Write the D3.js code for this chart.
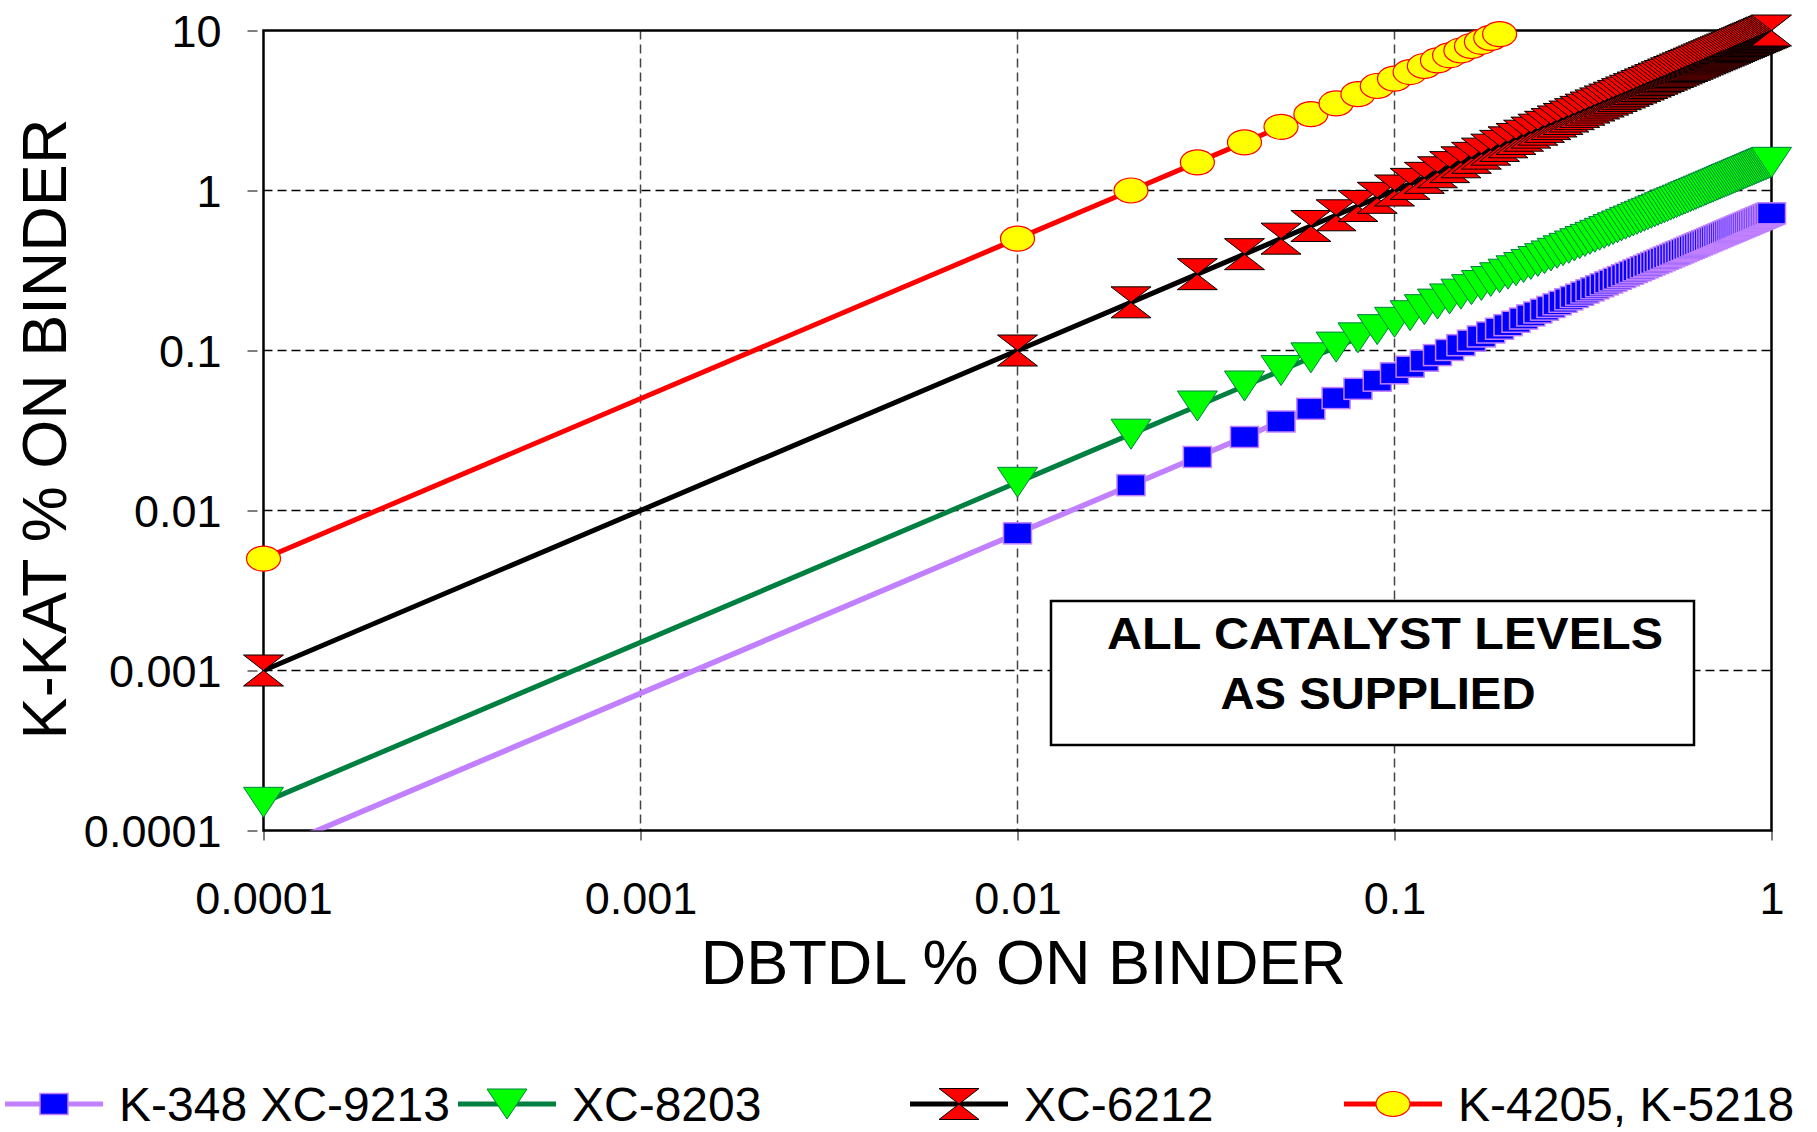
<!DOCTYPE html>
<html>
<head>
<meta charset="utf-8">
<script src="https://cdn.jsdelivr.net/npm/d3@7/dist/d3.min.js"></script>
<style>
  html, body { margin: 0; padding: 0; background: #fff; }
  svg { display: block; font-family: "Liberation Sans", Arial, sans-serif; }
</style>
</head>
<body>
<svg id="chart" width="1817" height="1132"></svg>
<script>
// ---------------- DATA ----------------
const seriesNames = ["K-348 XC-9213", "XC-8203", "XC-6212", "K-4205, K-5218"];

const xTickLabels = ["0.0001", "0.001", "0.01", "0.1", "1"];
const yTickLabels = ["0.0001", "0.001", "0.01", "0.1", "1", "10"];

const xTickValues = [0.0001, 0.001, 0.01, 0.1, 1];
const yTickValues = [0.0001, 0.001, 0.01, 0.1, 1, 10];

// DBTDL % on binder
const dbtdl = [
  0.0001,
  0.01, 0.02, 0.03, 0.04, 0.05, 0.06, 0.07, 0.08, 0.09, 0.10,
  0.11, 0.12, 0.13, 0.14, 0.15, 0.16, 0.17, 0.18, 0.19, 0.20,
  0.21, 0.22, 0.23, 0.24, 0.25, 0.26, 0.27, 0.28, 0.29, 0.30,
  0.31, 0.32, 0.33, 0.34, 0.35, 0.36, 0.37, 0.38, 0.39, 0.40,
  0.41, 0.42, 0.43, 0.44, 0.45, 0.46, 0.47, 0.48, 0.49, 0.50,
  0.51, 0.52, 0.53, 0.54, 0.55, 0.56, 0.57, 0.58, 0.59, 0.60,
  0.61, 0.62, 0.63, 0.64, 0.65, 0.66, 0.67, 0.68, 0.69, 0.70,
  0.71, 0.72, 0.73, 0.74, 0.75, 0.76, 0.77, 0.78, 0.79, 0.80,
  0.81, 0.82, 0.83, 0.84, 0.85, 0.86, 0.87, 0.88, 0.89, 0.90,
  0.91, 0.92, 0.93, 0.94, 0.95, 0.96, 0.97, 0.98, 0.99, 1.00
];

// K-KAT % on binder, per catalyst
const kkat9213 = [
  0.000072,
  0.0072, 0.0144, 0.0216, 0.0288, 0.036, 0.0432, 0.0504, 0.0576, 0.0648, 0.072,
  0.0792, 0.0864, 0.0936, 0.1008, 0.108, 0.1152, 0.1224, 0.1296, 0.1368, 0.144,
  0.1512, 0.1584, 0.1656, 0.1728, 0.18, 0.1872, 0.1944, 0.2016, 0.2088, 0.216,
  0.2232, 0.2304, 0.2376, 0.2448, 0.252, 0.2592, 0.2664, 0.2736, 0.2808, 0.288,
  0.2952, 0.3024, 0.3096, 0.3168, 0.324, 0.3312, 0.3384, 0.3456, 0.3528, 0.36,
  0.3672, 0.3744, 0.3816, 0.3888, 0.396, 0.4032, 0.4104, 0.4176, 0.4248, 0.432,
  0.4392, 0.4464, 0.4536, 0.4608, 0.468, 0.4752, 0.4824, 0.4896, 0.4968, 0.504,
  0.5112, 0.5184, 0.5256, 0.5328, 0.54, 0.5472, 0.5544, 0.5616, 0.5688, 0.576,
  0.5832, 0.5904, 0.5976, 0.6048, 0.612, 0.6192, 0.6264, 0.6336, 0.6408, 0.648,
  0.6552, 0.6624, 0.6696, 0.6768, 0.684, 0.6912, 0.6984, 0.7056, 0.7128, 0.72
];

const kkat8203 = [
  0.00015,
  0.015, 0.03, 0.045, 0.06, 0.075, 0.09, 0.105, 0.12, 0.135, 0.15,
  0.165, 0.18, 0.195, 0.21, 0.225, 0.24, 0.255, 0.27, 0.285, 0.3,
  0.315, 0.33, 0.345, 0.36, 0.375, 0.39, 0.405, 0.42, 0.435, 0.45,
  0.465, 0.48, 0.495, 0.51, 0.525, 0.54, 0.555, 0.57, 0.585, 0.6,
  0.615, 0.63, 0.645, 0.66, 0.675, 0.69, 0.705, 0.72, 0.735, 0.75,
  0.765, 0.78, 0.795, 0.81, 0.825, 0.84, 0.855, 0.87, 0.885, 0.9,
  0.915, 0.93, 0.945, 0.96, 0.975, 0.99, 1.005, 1.02, 1.035, 1.05,
  1.065, 1.08, 1.095, 1.11, 1.125, 1.14, 1.155, 1.17, 1.185, 1.2,
  1.215, 1.23, 1.245, 1.26, 1.275, 1.29, 1.305, 1.32, 1.335, 1.35,
  1.365, 1.38, 1.395, 1.41, 1.425, 1.44, 1.455, 1.47, 1.485, 1.5
];

const kkat6212 = [
  0.001,
  0.1, 0.2, 0.3, 0.4, 0.5, 0.6, 0.7, 0.8, 0.9, 1.0,
  1.1, 1.2, 1.3, 1.4, 1.5, 1.6, 1.7, 1.8, 1.9, 2.0,
  2.1, 2.2, 2.3, 2.4, 2.5, 2.6, 2.7, 2.8, 2.9, 3.0,
  3.1, 3.2, 3.3, 3.4, 3.5, 3.6, 3.7, 3.8, 3.9, 4.0,
  4.1, 4.2, 4.3, 4.4, 4.5, 4.6, 4.7, 4.8, 4.9, 5.0,
  5.1, 5.2, 5.3, 5.4, 5.5, 5.6, 5.7, 5.8, 5.9, 6.0,
  6.1, 6.2, 6.3, 6.4, 6.5, 6.6, 6.7, 6.8, 6.9, 7.0,
  7.1, 7.2, 7.3, 7.4, 7.5, 7.6, 7.7, 7.8, 7.9, 8.0,
  8.1, 8.2, 8.3, 8.4, 8.5, 8.6, 8.7, 8.8, 8.9, 9.0,
  9.1, 9.2, 9.3, 9.4, 9.5, 9.6, 9.7, 9.8, 9.9, 10.0
];

const kkat4205 = [
  0.005,
  0.5, 1.0, 1.5, 2.0, 2.5, 3.0, 3.5, 4.0, 4.5, 5.0,
  5.5, 6.0, 6.5, 7.0, 7.5, 8.0, 8.5, 9.0, 9.5
];

const annotationLines = ["ALL CATALYST LEVELS", "AS SUPPLIED"];
const xTitle = "DBTDL % ON BINDER";
const yTitle = "K-KAT % ON BINDER";

// ---------------- LAYOUT ----------------
const svg = d3.select("#chart");
const plot = { left: 263.5, right: 1771.5, top: 30.5, bottom: 830.5 };

const x = d3.scaleLog().domain([0.0001, 1]).range([plot.left, plot.right]);
const y = d3.scaleLog().domain([0.0001, 10]).range([plot.bottom, plot.top]);

// marker shapes
const markerDefs = {
  square: g => g.append("rect").attr("x", -14).attr("y", -10.5).attr("width", 28).attr("height", 21)
                .attr("fill", "#0000ff").attr("stroke", "#c080ff").attr("stroke-width", 1.5),
  triDown: g => g.append("path").attr("d", "M-20,-15L20,-15L0,15Z")
                .attr("fill", "#00ff00").attr("stroke", "#008040").attr("stroke-width", 1),
  hourglass: g => g.append("path").attr("d", "M-20,-15.5L20,-15.5L0,0L20,15.5L-20,15.5L0,0Z")
                .attr("fill", "#ff0000").attr("stroke", "#000").attr("stroke-width", 1),
  ellipse: g => g.append("ellipse").attr("rx", 17).attr("ry", 12.5)
                .attr("fill", "#ffff00").attr("stroke", "#ff0000").attr("stroke-width", 1.2)
};

const series = [
  { name: seriesNames[0], ys: kkat9213, line: "#c080ff", lw: 5.5, marker: "square" },
  { name: seriesNames[1], ys: kkat8203, line: "#008040", lw: 5, marker: "triDown" },
  { name: seriesNames[2], ys: kkat6212, line: "#000000", lw: 5, marker: "hourglass" },
  { name: seriesNames[3], ys: kkat4205, line: "#ff0000", lw: 5, marker: "ellipse" }
];

// clip path for lines
svg.append("defs").append("clipPath").attr("id", "plotClip")
  .append("rect").attr("x", plot.left).attr("y", plot.top)
  .attr("width", plot.right - plot.left).attr("height", plot.bottom - plot.top);

// gridlines
const grid = svg.append("g");
grid.selectAll("line.vg").data(xTickValues.filter(v => v > 0.0001 && v < 1)).enter()
  .append("line").attr("class", "vg")
  .attr("x1", d => x(d)).attr("x2", d => x(d))
  .attr("y1", plot.top).attr("y2", plot.bottom)
  .attr("stroke", "#444").attr("stroke-width", 1.5).attr("stroke-dasharray", "9,5");
grid.selectAll("line.hg").data(yTickValues.filter(v => v > 0.0001 && v < 10)).enter()
  .append("line").attr("class", "hg")
  .attr("x1", plot.left).attr("x2", plot.right)
  .attr("y1", d => y(d)).attr("y2", d => y(d))
  .attr("stroke", "#000").attr("stroke-width", 1.5).attr("stroke-dasharray", "9,5");

// axes via d3 axis generators
const xAxis = d3.axisBottom(x).tickValues(xTickValues)
  .tickFormat((d, i) => xTickLabels[i]).tickSize(16).tickPadding(36);
const yAxis = d3.axisLeft(y).tickValues(yTickValues)
  .tickFormat((d, i) => yTickLabels[i]).tickSize(16).tickPadding(26);

const gx = svg.append("g").attr("transform", `translate(0,${plot.bottom})`).call(xAxis);
const gy = svg.append("g").attr("transform", `translate(${plot.left},0)`).call(yAxis);
[gx, gy].forEach(g => {
  g.select(".domain").remove();
  g.selectAll(".tick line").attr("stroke", "#555").attr("stroke-width", 1.5)
    .attr("stroke-dasharray", "10,6");
  g.selectAll(".tick text").attr("font-size", 45).attr("fill", "#000")
    .attr("font-family", "'Liberation Sans', Arial, sans-serif");
});
gy.selectAll(".tick line").attr("x1", -16).attr("x2", 0);
gy.selectAll(".tick text").attr("dy", "0.36em");

// plot border
svg.append("rect").attr("x", plot.left).attr("y", plot.top)
  .attr("width", plot.right - plot.left).attr("height", plot.bottom - plot.top)
  .attr("fill", "none").attr("stroke", "#000").attr("stroke-width", 2.5);

// series lines + markers
const lineGen = d3.line().x(d => x(d[0])).y(d => y(d[1]));
series.forEach(s => {
  const pts = dbtdl.slice(0, s.ys.length).map((xv, i) => [xv, s.ys[i]]);
  svg.append("path").datum(pts)
    .attr("d", lineGen).attr("fill", "none")
    .attr("stroke", s.line).attr("stroke-width", s.lw)
    .attr("stroke-linejoin", "round")
    .attr("clip-path", "url(#plotClip)");
  const visible = pts.filter(p => p[0] >= 0.0001 && p[0] <= 1 && p[1] >= 0.0001 && p[1] <= 10);
  const mg = svg.append("g");
  visible.forEach(p => {
    const g = mg.append("g").attr("transform", `translate(${x(p[0])},${y(p[1])})`);
    markerDefs[s.marker](g);
  });
});

// annotation box
const box = { x: 1051, y: 601, w: 643, h: 144 };
svg.append("rect").attr("x", box.x).attr("y", box.y).attr("width", box.w).attr("height", box.h)
  .attr("fill", "#fff").attr("stroke", "#000").attr("stroke-width", 2.5);
svg.append("text").attr("x", 1385).attr("y", 649).attr("text-anchor", "middle")
  .attr("font-size", 45).attr("font-weight", "bold")
  .attr("textLength", 556).attr("lengthAdjust", "spacingAndGlyphs")
  .text(annotationLines[0]);
svg.append("text").attr("x", 1378).attr("y", 709).attr("text-anchor", "middle")
  .attr("font-size", 45).attr("font-weight", "bold")
  .attr("textLength", 315).attr("lengthAdjust", "spacingAndGlyphs")
  .text(annotationLines[1]);

// axis titles
svg.append("text").attr("x", (plot.left + plot.right) / 2 + 6).attr("y", 984)
  .attr("text-anchor", "middle").attr("font-size", 63).text(xTitle);
svg.append("text").attr("transform", "translate(66,429) rotate(-90)")
  .attr("text-anchor", "middle").attr("font-size", 63).text(yTitle);

// legend
const legendY = 1104;
const legendSampleX = [5, 458, 910, 1344];
const legend = svg.append("g");
series.forEach((s, i) => {
  const sx = legendSampleX[i];
  legend.append("line").attr("x1", sx).attr("x2", sx + 98)
    .attr("y1", legendY).attr("y2", legendY)
    .attr("stroke", s.line).attr("stroke-width", 5);
  const g = legend.append("g").attr("transform", `translate(${sx + 49},${legendY})`);
  markerDefs[s.marker](g);
  legend.append("text").attr("x", sx + 114).attr("y", legendY + 17)
    .attr("font-size", 48).text(s.name);
});
</script>
</body>
</html>
